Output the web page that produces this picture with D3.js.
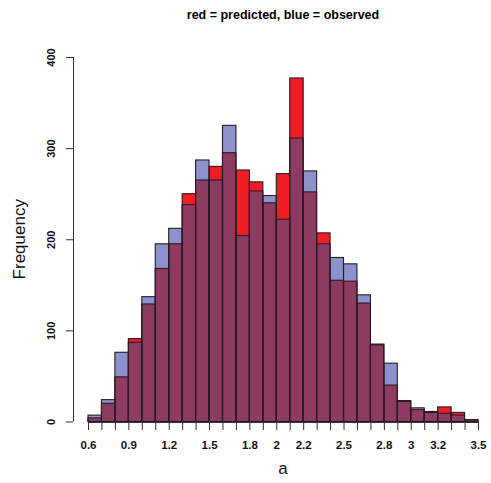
<!DOCTYPE html>
<html>
<head>
<meta charset="utf-8">
<script src="https://cdn.jsdelivr.net/npm/d3@7"></script>
<style>
  html, body { margin: 0; padding: 0; background: #fff; }
  svg { display: block; font-family: "Liberation Sans", Arial, sans-serif; }
</style>
</head>
<body>
<div id="chart"></div>
<script>
// Histogram bins of width 0.1 from 0.6 to 3.5
const binStart = 0.6;
const binWidth = 0.1;
const predicted = [4, 20, 49, 91, 129, 168, 195, 250, 265, 280, 295, 276, 263, 240, 272, 377, 252, 207, 155, 154, 130, 85, 40, 23, 13, 11, 16, 10, 2];
const observed  = [7, 24, 76, 87, 137, 195, 212, 238, 287, 265, 325, 204, 253, 248, 222, 311, 275, 195, 180, 173, 139, 84, 64, 22, 15, 10, 9, 7, 2];
const xTickLabels = [0.6, 0.9, 1.2, 1.5, 1.8, 2, 2.2, 2.5, 2.8, 3, 3.2, 3.5];
const yTicks = [0, 100, 200, 300, 400];

const W = 491, H = 483;
const colRed = "#ee1c25", colBlue = "#8c92cc", colBoth = "#8e3b62";

const svg = d3.select("#chart").append("svg").attr("width", W).attr("height", H);

const x = d3.scaleLinear().domain([0.6, 3.5]).range([88, 478]);
const y = d3.scaleLinear().domain([0, 400]).range([421.5, 57]);

const bins = predicted.map((p, i) => {
  const x0 = +(binStart + i * binWidth).toFixed(1);
  return { x0, x1: +(x0 + binWidth).toFixed(1), p, o: observed[i] };
});

// Title
svg.append("text").attr("x", 283).attr("y", 19).attr("text-anchor", "middle")
  .attr("font-weight", "bold").attr("font-size", 12.5).text("red = predicted, blue = observed");

const g = svg.append("g");

// Coloured fills: red-only part, blue-only part, overlapping part
g.selectAll("rect.pred").data(bins).join("rect").attr("class", "pred")
  .attr("x", d => x(d.x0)).attr("width", d => x(d.x1) - x(d.x0))
  .attr("y", d => y(d.p)).attr("height", d => y(0) - y(d.p)).attr("fill", colRed);
g.selectAll("rect.obs").data(bins).join("rect").attr("class", "obs")
  .attr("x", d => x(d.x0)).attr("width", d => x(d.x1) - x(d.x0))
  .attr("y", d => y(d.o)).attr("height", d => y(0) - y(d.o)).attr("fill", colBlue);
g.selectAll("rect.both").data(bins).join("rect").attr("class", "both")
  .attr("x", d => x(d.x0)).attr("width", d => x(d.x1) - x(d.x0))
  .attr("y", d => y(Math.min(d.p, d.o))).attr("height", d => y(0) - y(Math.min(d.p, d.o)))
  .attr("fill", colBoth);

// Bar outlines for both series
["p", "o"].forEach(k => {
  g.selectAll("rect.out" + k).data(bins).join("rect").attr("class", "out" + k)
    .attr("x", d => x(d.x0)).attr("width", d => x(d.x1) - x(d.x0))
    .attr("y", d => y(d[k])).attr("height", d => y(0) - y(d[k]))
    .attr("fill", "none").attr("stroke", "#2a1a22").attr("stroke-width", 1.1);
});

// X axis: a tick at every bin edge, labels at selected values
const edges = d3.range(bins.length + 1).map(i => +(binStart + i * binWidth).toFixed(1));
const xAxis = d3.axisBottom(x).tickValues(edges).tickSize(8)
  .tickFormat(v => xTickLabels.some(t => Math.abs(t - v) < 1e-9) ? d3.format("")(v) : "");
const gx = svg.append("g").attr("transform", "translate(0,422)").call(xAxis);
gx.select(".domain").attr("stroke", "#333").attr("d", `M${x(0.6)},0.5H${x(3.5)}`);
gx.selectAll(".tick line").attr("stroke", "#333");
gx.selectAll(".tick text").attr("font-size", 11.5).attr("font-weight", "bold")
  .attr("font-family", "Liberation Sans, Arial, sans-serif").attr("fill", "#111").attr("dy", "1.35em");

// Y axis
const yAxis = d3.axisLeft(y).tickValues(yTicks).tickSize(7).tickFormat(d3.format("d"));
const gy = svg.append("g").attr("transform", "translate(73,0)").call(yAxis);
gy.select(".domain").attr("stroke", "#333").attr("d", `M0.5,${y(0)}V${y(400)}`);
gy.selectAll(".tick line").attr("stroke", "#333");
gy.selectAll(".tick text").attr("font-size", 11).attr("font-weight", "bold")
  .attr("font-family", "Liberation Sans, Arial, sans-serif").attr("fill", "#111")
  .attr("x", 0).attr("y", 0).attr("dx", 0).attr("dy", 0).attr("text-anchor", "middle")
  .attr("transform", "translate(-18,0) rotate(-90)");

// Axis titles
svg.append("text").attr("x", 283).attr("y", 474).attr("text-anchor", "middle")
  .attr("font-size", 17).attr("fill", "#111").text("a");
svg.append("text").attr("transform", `translate(25,${y(200)}) rotate(-90)`)
  .attr("text-anchor", "middle").attr("font-size", 17).attr("fill", "#111").text("Frequency");
</script>
</body>
</html>
